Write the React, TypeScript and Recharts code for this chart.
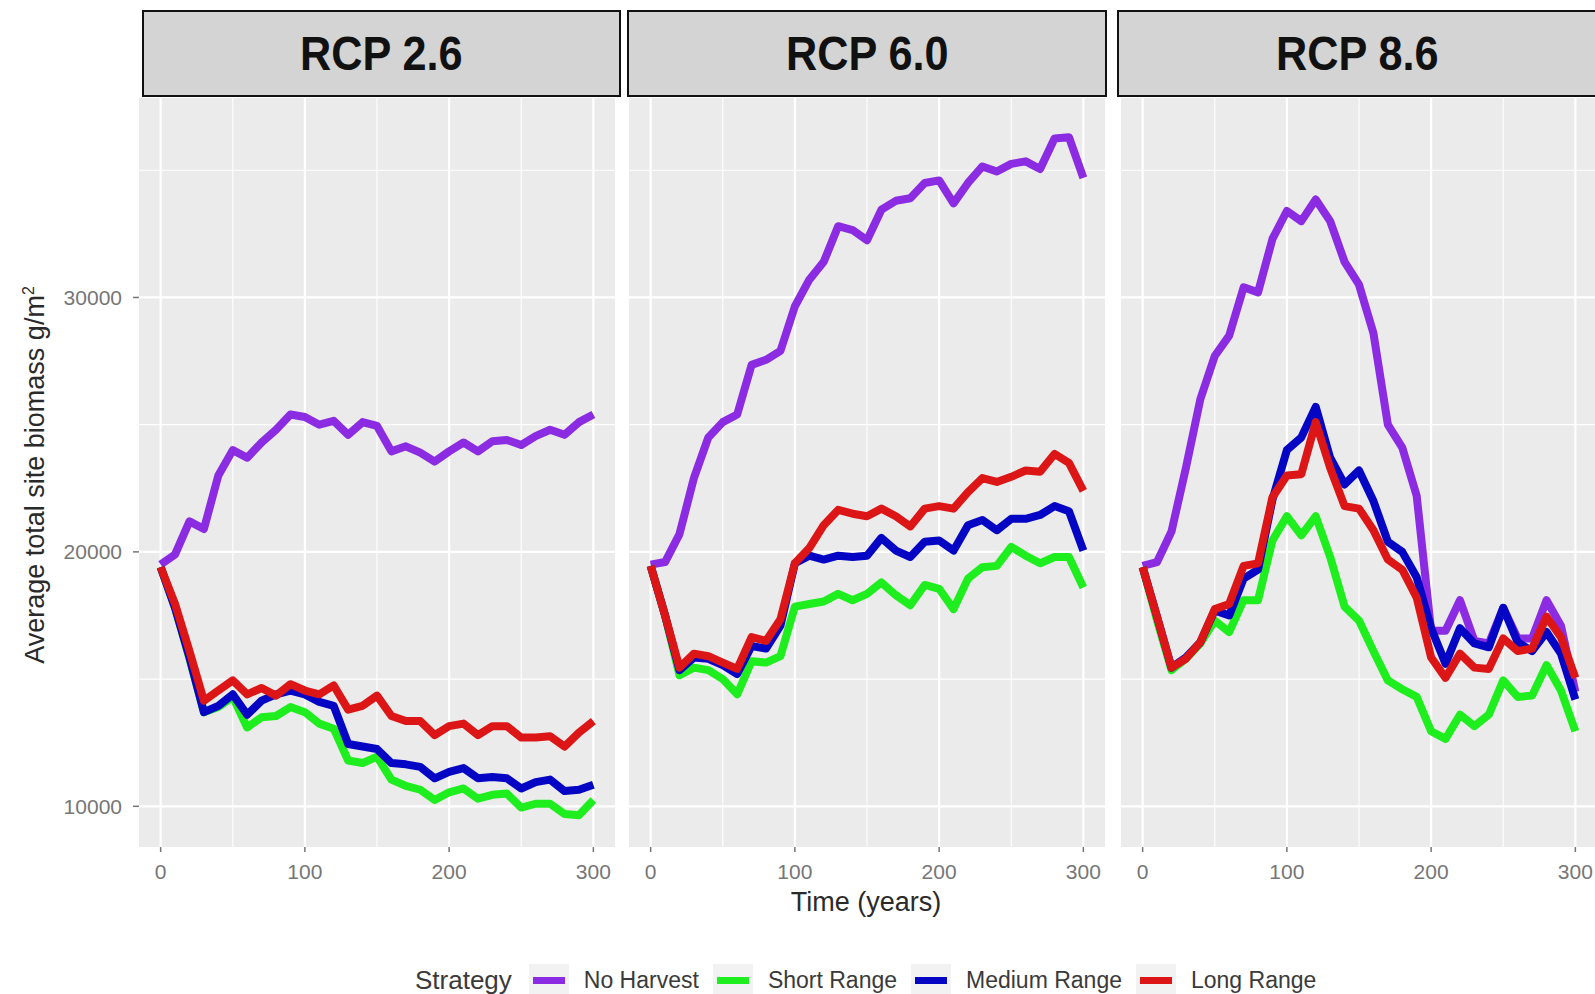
import React from 'react';
import { LineChart, Line, XAxis, YAxis, CartesianGrid, ReferenceLine } from 'recharts';

const years = [0, 10, 20, 30, 40, 50, 60, 70, 80, 90, 100, 110, 120, 130, 140, 150, 160, 170, 180, 190, 200, 210, 220, 230, 240, 250, 260, 270, 280, 290, 300];

const strategies = ['No Harvest', 'Short Range', 'Medium Range', 'Long Range'];
const strategyColors = ['#8B2BE2', '#1EEE1E', '#0505C4', '#DC1616'];

const panelLabels = ['RCP 2.6', 'RCP 6.0', 'RCP 8.6'];

const xTicks = [0, 100, 200, 300];
const xMinor = [50, 150, 250];
const yTicks = [10000, 20000, 30000];
const yMinor = [15000, 25000, 35000];

// RCP 2.6
const noHarvest26 = [19500, 19900, 21200, 20900, 23000, 24000, 23700, 24300, 24800, 25400, 25300, 25000, 25150, 24600, 25100, 24950, 23950, 24150, 23900, 23550, 23950, 24300, 23950, 24350, 24400, 24200, 24550, 24800, 24600, 25100, 25400];
const shortRange26 = [19400, 17800, 15800, 13700, 13900, 14300, 13100, 13500, 13550, 13900, 13700, 13250, 13050, 11800, 11700, 11950, 11050, 10800, 10650, 10250, 10550, 10700, 10300, 10450, 10500, 9950, 10100, 10100, 9700, 9650, 10250];
const mediumRange26 = [19400, 17800, 15850, 13700, 13950, 14400, 13600, 14150, 14400, 14550, 14400, 14100, 13950, 12450, 12350, 12250, 11700, 11650, 11550, 11100, 11350, 11500, 11100, 11150, 11100, 10700, 10950, 11050, 10600, 10650, 10850];
const longRange26 = [19400, 17950, 16100, 14150, 14550, 14950, 14400, 14650, 14350, 14800, 14550, 14400, 14750, 13800, 13950, 14350, 13550, 13350, 13350, 12800, 13150, 13250, 12800, 13150, 13150, 12700, 12700, 12750, 12350, 12900, 13350];

// RCP 6.0
const noHarvest60 = [19500, 19600, 20700, 22900, 24500, 25100, 25400, 27350, 27550, 27900, 29650, 30700, 31400, 32800, 32650, 32250, 33450, 33800, 33900, 34500, 34600, 33700, 34500, 35150, 34950, 35250, 35350, 35050, 36250, 36300, 34700];
const shortRange60 = [19450, 17500, 15150, 15450, 15350, 15000, 14400, 15700, 15650, 15900, 17850, 17950, 18050, 18350, 18100, 18350, 18800, 18300, 17900, 18700, 18550, 17750, 18950, 19400, 19450, 20200, 19850, 19550, 19800, 19800, 18600];
const mediumRange60 = [19450, 17500, 15350, 15850, 15800, 15550, 15200, 16300, 16200, 17100, 19550, 19850, 19700, 19850, 19800, 19850, 20550, 20050, 19800, 20400, 20450, 20050, 21050, 21250, 20850, 21300, 21300, 21450, 21800, 21600, 20050];
const longRange60 = [19450, 17500, 15450, 16000, 15900, 15650, 15400, 16650, 16500, 17350, 19550, 20150, 21050, 21650, 21500, 21400, 21700, 21400, 21000, 21700, 21800, 21700, 22350, 22900, 22750, 22950, 23200, 23150, 23850, 23500, 22400];

// RCP 8.6
const noHarvest86 = [19450, 19600, 20800, 23300, 26000, 27700, 28500, 30400, 30200, 32300, 33400, 33000, 33850, 33000, 31400, 30500, 28600, 25000, 24100, 22200, 16900, 16900, 18100, 16500, 16400, 17800, 16600, 16600, 18100, 17100, 14500];
const shortRange86 = [19400, 17300, 15350, 15800, 16400, 17300, 16850, 18100, 18100, 20450, 21400, 20650, 21400, 19800, 17850, 17300, 16100, 14950, 14600, 14300, 12950, 12650, 13600, 13150, 13600, 14950, 14300, 14350, 15550, 14550, 12950];
const mediumRange86 = [19400, 17450, 15450, 15850, 16450, 17700, 17500, 18950, 19300, 22050, 24000, 24500, 25700, 23700, 22650, 23200, 22000, 20400, 20000, 19000, 17000, 15600, 17000, 16400, 16250, 17800, 16450, 16100, 16850, 16000, 14200];
const longRange86 = [19400, 17450, 15450, 15800, 16450, 17750, 17950, 19450, 19550, 22150, 23000, 23050, 25100, 23300, 21800, 21700, 20850, 19700, 19300, 18200, 15850, 15050, 16000, 15450, 15400, 16600, 16100, 16200, 17450, 16650, 15050];

const buildRows = (series: number[][]) =>
  years.map((year, i) => {
    const row: Record<string, number> = { year };
    strategies.forEach((s, k) => {
      row[s] = series[k][i];
    });
    return row;
  });

const panelData = [
  buildRows([noHarvest26, shortRange26, mediumRange26, longRange26]),
  buildRows([noHarvest60, shortRange60, mediumRange60, longRange60]),
  buildRows([noHarvest86, shortRange86, mediumRange86, longRange86]),
];

const FONT = '"Liberation Sans", Arial, Helvetica, sans-serif';
const PLOT_TOP = 98;
const PLOT_H = 749;
const AXIS_H = 50;
const PLOT_W = 476;
const Y_AXIS_W = 139;

const plotLefts = [139, 629, 1121];
const stripLefts = [142, 627, 1117];
const stripWidths = [479, 480, 480];

const tickStyle = { fill: '#767676', fontSize: 21, fontFamily: FONT };

function Panel({ index }: { index: number }) {
  const showY = index === 0;
  const chartLeft = showY ? plotLefts[0] - Y_AXIS_W : plotLefts[index];
  const chartWidth = showY ? PLOT_W + Y_AXIS_W : PLOT_W;
  return (
    <>
      <div
        style={{
          position: 'absolute',
          left: stripLefts[index],
          top: 10,
          width: stripWidths[index],
          height: 87,
          boxSizing: 'border-box',
          border: '2px solid #111',
          background: '#D4D4D4',
          display: 'flex',
          alignItems: 'center',
          justifyContent: 'center',
          overflow: 'hidden',
        }}
      >
        <span
          style={{
            display: 'inline-block',
            fontFamily: FONT,
            fontWeight: 'bold',
            fontSize: 48,
            color: '#111',
            transform: 'scaleX(0.9)',
            whiteSpace: 'nowrap',
          }}
        >
          {panelLabels[index]}
        </span>
      </div>
      <div style={{ position: 'absolute', left: chartLeft, top: PLOT_TOP }}>
        <LineChart
          width={chartWidth}
          height={PLOT_H + AXIS_H}
          data={panelData[index]}
          margin={{ top: 0, right: 0, bottom: 0, left: 0 }}
        >
          <CartesianGrid fill="#EBEBEB" stroke="none" horizontal={false} vertical={false} />
          <XAxis
            dataKey="year"
            type="number"
            domain={[-15, 315]}
            ticks={xTicks}
            height={AXIS_H}
            axisLine={false}
            tickLine={{ stroke: '#767676', strokeWidth: 1.5 }}
            tickSize={5}
            tickMargin={12}
            tick={tickStyle}
            allowDataOverflow
          />
          <YAxis
            type="number"
            domain={[8400, 37840]}
            ticks={yTicks}
            width={Y_AXIS_W}
            hide={!showY}
            axisLine={false}
            tickLine={{ stroke: '#767676', strokeWidth: 1.5 }}
            tickSize={6}
            tickMargin={11}
            tick={tickStyle}
            allowDataOverflow
          />
          {yMinor.map((v) => (
            <ReferenceLine key={`ym${v}`} y={v} stroke="#ffffff" strokeWidth={1.1} />
          ))}
          {xMinor.map((v) => (
            <ReferenceLine key={`xm${v}`} x={v} stroke="#ffffff" strokeWidth={1.1} />
          ))}
          {yTicks.map((v) => (
            <ReferenceLine key={`y${v}`} y={v} stroke="#ffffff" strokeWidth={2.2} />
          ))}
          {xTicks.map((v) => (
            <ReferenceLine key={`x${v}`} x={v} stroke="#ffffff" strokeWidth={2.2} />
          ))}
          {strategies.map((s, k) => (
            <Line
              key={s}
              type="linear"
              dataKey={s}
              stroke={strategyColors[k]}
              strokeWidth={8}
              strokeLinejoin="round"
              dot={false}
              activeDot={false}
              isAnimationActive={false}
            />
          ))}
        </LineChart>
      </div>
    </>
  );
}

export default function App() {
  return (
    <div
      style={{
        position: 'absolute',
        left: 0,
        top: 0,
        width: 1595,
        height: 994,
        background: '#ffffff',
        overflow: 'hidden',
        fontFamily: FONT,
      }}
    >
      {[0, 1, 2].map((i) => (
        <Panel key={i} index={i} />
      ))}

      {/* y axis title */}
      <div
        style={{
          position: 'absolute',
          left: 35,
          top: 475,
          transform: 'translate(-50%, -50%) rotate(-90deg)',
          whiteSpace: 'nowrap',
          fontSize: 27,
          color: '#2a2a2a',
          lineHeight: 1,
        }}
      >
        Average total site biomass g/m<sup style={{ fontSize: 16 }}>2</sup>
      </div>

      {/* x axis title */}
      <div
        style={{
          position: 'absolute',
          left: 866,
          top: 902,
          transform: 'translate(-50%, -50%)',
          whiteSpace: 'nowrap',
          fontSize: 27,
          color: '#2a2a2a',
          lineHeight: 1,
        }}
      >
        Time (years)
      </div>

      {/* legend */}
      <div
        style={{
          position: 'absolute',
          left: 415,
          top: 980,
          transform: 'translateY(-50%)',
          display: 'flex',
          alignItems: 'center',
          whiteSpace: 'nowrap',
          color: '#3a3a3a',
        }}
      >
        <span style={{ fontSize: 26 }}>Strategy</span>
        {strategies.map((s, k) => (
          <React.Fragment key={s}>
            <span
              style={{
                marginLeft: k === 0 ? 17 : 14,
                width: 40,
                height: 32,
                background: '#F2F2F2',
                display: 'flex',
                alignItems: 'center',
                justifyContent: 'center',
              }}
            >
              <span style={{ width: 32, height: 7, background: strategyColors[k] }} />
            </span>
            <span style={{ marginLeft: 15, fontSize: 23 }}>{s}</span>
          </React.Fragment>
        ))}
      </div>
    </div>
  );
}
